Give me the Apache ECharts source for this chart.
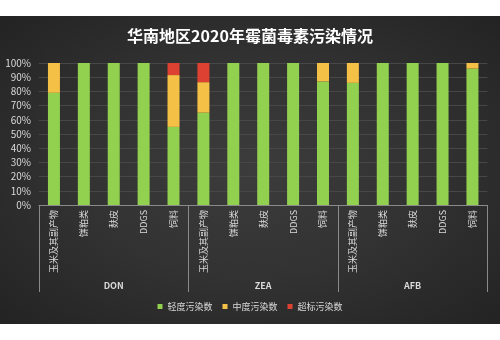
<!DOCTYPE html>
<html>
<head>
<meta charset="utf-8">
<script src="https://cdn.jsdelivr.net/npm/echarts@6/dist/echarts.min.js"></script>
<style>
html,body{margin:0;padding:0;background:#fff;}
#wrap{position:relative;width:500px;height:340px;}
#bg{position:absolute;left:0;top:16px;width:500px;height:308px;
 background:radial-gradient(ellipse at 50% 50%, #3c3c3c 0%, #323232 50%, #232323 100%);}
#chart{position:absolute;left:0;top:0;width:500px;height:340px;}
</style>
</head>
<body>
<div id="wrap"><div id="bg"></div><div id="chart"></div></div>
<script>
const titleText = '华南地区2020年霉菌毒素污染情况';
const subCategories = ['玉米及其副产物','饼粕类','麸皮','DDGS','饲料','玉米及其副产物','饼粕类','麸皮','DDGS','饲料','玉米及其副产物','饼粕类','麸皮','DDGS','饲料'];
const groups = ['DON','ZEA','AFB'];
const seriesNames = ['轻度污染数','中度污染数','超标污染数'];
const lightVals  = [79,100,100,100,55, 65,100,100,100,87, 86,100,100,100,96];
const mediumVals = [21,0,0,0,36.5,   21.5,0,0,0,13,   14,0,0,0,4];
const overVals   = [0,0,0,0,8.5,     13.5,0,0,0,0,    0,0,0,0,0];
const yTicks = [0,10,20,30,40,50,60,70,80,90,100];
const colors = ['#92d050','#f4c045','#dc4132'];
const font = 'Noto Sans CJK SC';
const txt = '#d9d9d9';

const chart = echarts.init(document.getElementById('chart'), null, {renderer:'canvas'});
const valueLists = [lightVals, mediumVals, overVals];
chart.setOption({
  backgroundColor: 'transparent',
  animation: false,
  title: {
    text: titleText, left: 'center', top: 23,
    textStyle: {color:'#ffffff', fontSize:16, fontWeight:'bold', fontFamily: font}
  },
  legend: {
    data: seriesNames, bottom: 24, left: 'center',
    itemWidth: 5, itemHeight: 5, itemGap: 10, icon: 'rect',
    textStyle: {color: txt, fontSize: 9, fontFamily: font}
  },
  grid: {left: 39, right: 12.6, top: 63, bottom: 135, containLabel: false},
  xAxis: [
    {
      type: 'category', data: subCategories, position: 'bottom',
      axisLine: {show: true, lineStyle: {color: '#8a8a8a', width: 1}},
      axisTick: {show: false},
      axisLabel: {interval: 0, rotate: 90, margin: 5, color: txt, fontSize: 9, fontFamily: font}
    },
    {
      type: 'category', data: groups, position: 'bottom',
      axisLine: {show: false},
      axisTick: {show: true, length: 87, interval: 0, lineStyle: {color: '#8a8a8a', width: 1}},
      axisLabel: {interval: 0, margin: 76, color: txt, fontSize: 9, fontWeight: 'bold', fontFamily: font},
      splitLine: {show: false}
    }
  ],
  yAxis: {
    type: 'value', min: 0, max: 100, interval: 10,
    axisLine: {show: false}, axisTick: {show: false},
    axisLabel: {formatter: v => yTicks.includes(v) ? v + '%' : '', margin: 8, color: txt, fontSize: 10, fontFamily: font},
    splitLine: {lineStyle: {color: '#474747', width: 1}}
  },
  series: seriesNames.map((n, i) => ({
    name: n, type: 'bar', stack: 'total', xAxisIndex: 0,
    barWidth: 12, data: valueLists[i],
    itemStyle: {color: colors[i]}
  }))
});
</script>
</body>
</html>
